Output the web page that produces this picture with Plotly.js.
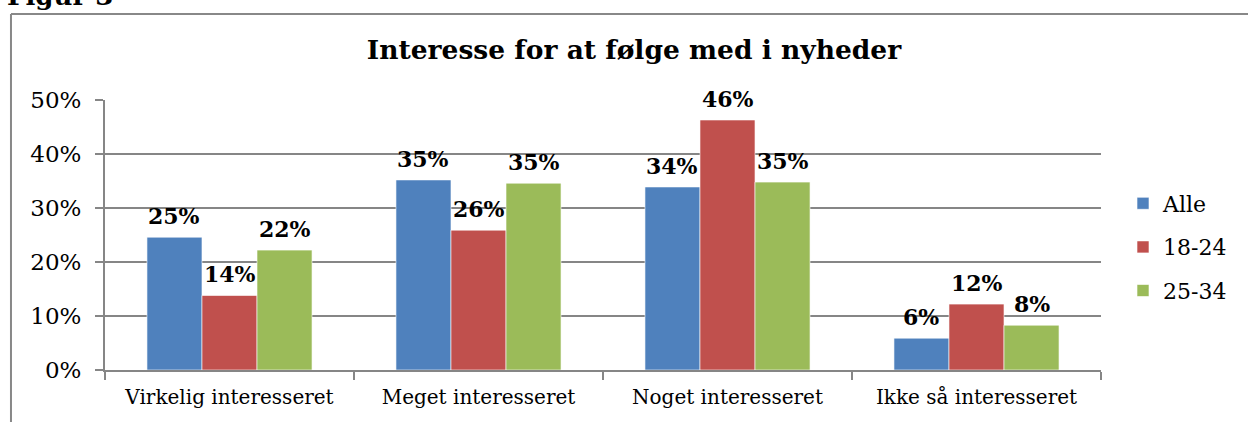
<!DOCTYPE html>
<html>
<head>
<meta charset="utf-8">
<script src="https://cdn.plot.ly/plotly-3.0.1.min.js"></script>
<style>
html,body{margin:0;padding:0;background:#fff;}
#chart{width:1248px;height:422px;}
</style>
</head>
<body>
<div id="chart"></div>
<script>
const categories = ["Virkelig interesseret", "Meget interesseret", "Noget interesseret", "Ikke så interesseret"];
const seriesNames = ["Alle", "18-24", "25-34"];
const alle = [0.246, 0.352, 0.339, 0.059];
const age1824 = [0.138, 0.259, 0.463, 0.122];
const age2534 = [0.222, 0.346, 0.348, 0.083];
const colors = ["#4F81BD", "#C0504D", "#9BBB59"];
const yTicks = [0, 0.1, 0.2, 0.3, 0.4, 0.5];
const chartTitle = "Interesse for at følge med i nyheder";
const figureLabel = "Figur 3";

const serif = "DejaVu Serif, serif";
const values = [alle, age1824, age2534];

const plotW = 1248 - 105 - 147;
const bargap = 0.337;
const barPx = plotW / categories.length * (1 - bargap) / values.length;

const traces = values.map((v, i) => ({
  type: "bar",
  name: seriesNames[i],
  x: categories,
  y: v,
  legendgroup: "g" + i,
  marker: {color: colors[i], line: {color: "rgba(255,255,255,0.6)", width: 1}},
  hoverinfo: "skip"
}));

const labelAnnotations = [];
values.forEach((v, i) => {
  v.forEach((val, j) => {
    labelAnnotations.push({
      x: categories[j], y: val, xref: "x", yref: "y",
      text: "<b>" + Math.round(val * 100) + "%</b>",
      showarrow: false, xanchor: "center", yanchor: "bottom",
      xshift: (i - 1) * barPx, yshift: 6,
      font: {family: serif, size: 22, color: "#000"}
    });
  });
});

const layout = {
  width: 1248, height: 422,
  margin: {l: 105, r: 147, t: 100, b: 52},
  paper_bgcolor: "#fff", plot_bgcolor: "#fff",
  barmode: "group", bargap: bargap, bargroupgap: 0,
  showlegend: true,
  legend: {
    xref: "container", yref: "container",
    x: 1123 / 1248, y: 1 - 247 / 422, xanchor: "left", yanchor: "middle",
    font: {family: serif, size: 22, color: "#000"},
    tracegroupgap: 12, itemwidth: 30
  },
  title: {
    text: "<b>" + chartTitle + "</b>",
    font: {family: serif, size: 26.5, color: "#000"},
    x: 634 / 1248, xref: "container", xanchor: "center",
    y: 1 - 50 / 422, yref: "container", yanchor: "middle"
  },
  xaxis: {
    type: "category",
    showline: true, linecolor: "#868686", linewidth: 2,
    ticks: "outside", tickson: "boundaries", ticklen: 8, tickcolor: "#868686", tickwidth: 2,
    tickfont: {family: serif, size: 20, color: "#000"},
    ticklabelstandoff: 8,
    showgrid: false, fixedrange: true
  },
  yaxis: {
    range: [0, 0.5], tickvals: yTicks, tickformat: ".0%",
    showline: true, linecolor: "#868686", linewidth: 2,
    ticks: "outside", ticklen: 8, tickcolor: "#868686", tickwidth: 2,
    showgrid: true, gridcolor: "#868686", gridwidth: 2,
    zeroline: false,
    tickfont: {family: serif, size: 23, color: "#000"},
    ticklabelstandoff: 9, fixedrange: true
  },
  shapes: [
    {type: "line", xref: "paper", yref: "paper", x0: -0.0944, x1: -0.0944, y0: 1.3185, y1: -0.3, line: {color: "#888", width: 2}},
    {type: "line", xref: "paper", yref: "paper", x0: -0.0944, x1: 1.2, y0: 1.3185, y1: 1.3185, line: {color: "#888", width: 2}}
  ],
  annotations: labelAnnotations.concat([
    {text: "<b>" + figureLabel + "</b>", xref: "paper", yref: "paper", x: -0.1, y: 1.324, xanchor: "left", yanchor: "bottom", showarrow: false, font: {family: serif, size: 26, color: "#000"}}
  ])
};

Plotly.newPlot("chart", traces, layout, {displayModeBar: false, staticPlot: true});
</script>
</body>
</html>
